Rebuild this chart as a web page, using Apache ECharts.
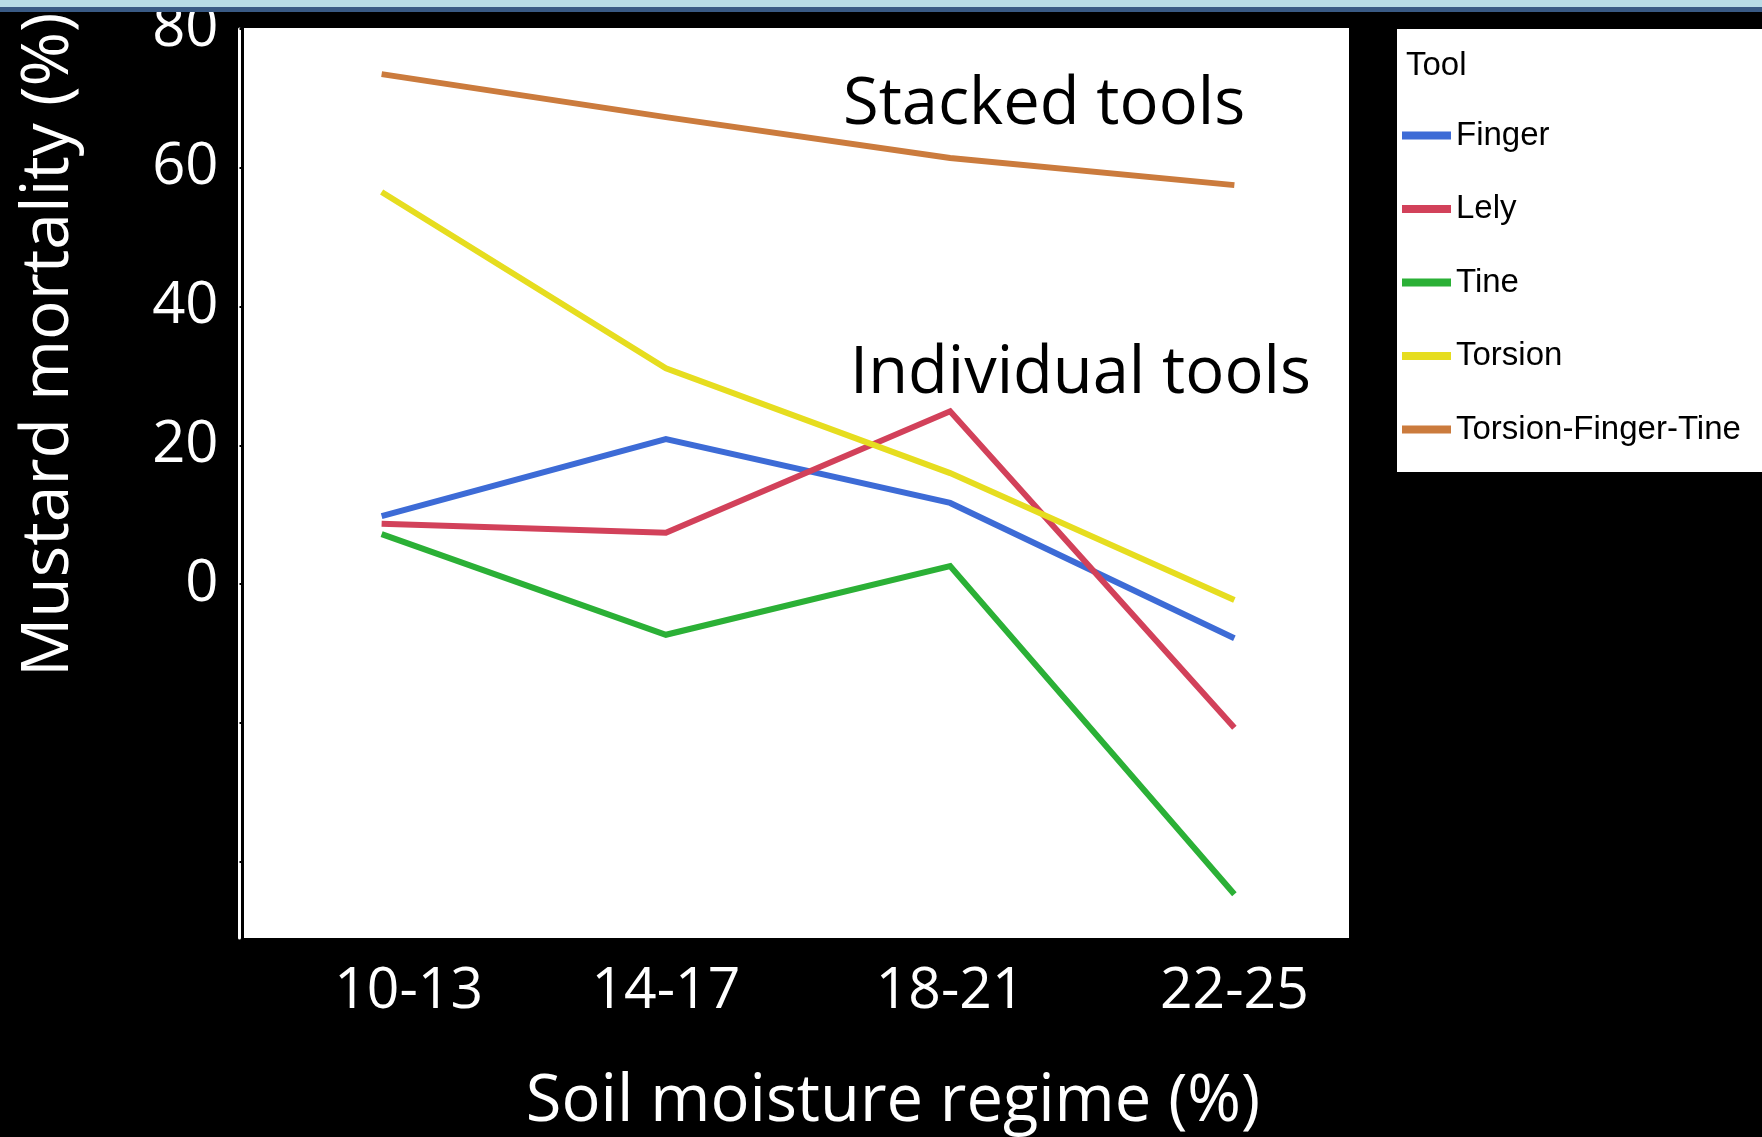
<!DOCTYPE html>
<html>
<head>
<meta charset="utf-8">
<script src="https://cdn.jsdelivr.net/npm/echarts@6/dist/echarts.min.js"></script>
<style>
  html, body { margin: 0; padding: 0; background: #000; }
  #chart { width: 1762px; height: 1137px; }
</style>
</head>
<body>
<div id="chart"></div>
<script>
const categories = ['10-13', '14-17', '18-21', '22-25'];
const seriesNames = ['Finger', 'Lely', 'Tine', 'Torsion', 'Torsion-Finger-Tine'];
const finger = [9.8, 20.9, 11.7, -7.8];
const lely = [8.7, 7.4, 24.9, -20.7];
const tine = [7.2, -7.3, 2.6, -44.7];
const torsion = [56.5, 31.1, 16.0, -2.3];
const torsionFingerTine = [73.5, 67.3, 61.4, 57.5];
const yTickValues = [-40, -20, 0, 20, 40, 60, 80];
const yLabelValues = [0, 20, 40, 60, 80];
const colors = ['#3d6bd6', '#d2415a', '#2bb036', '#e6dd1f', '#cb7b3d'];

const seriesData = [finger, lely, tine, torsion, torsionFingerTine];

const chart = echarts.init(document.getElementById('chart'), null, { renderer: 'canvas' });

const option = {
  backgroundColor: '#000',
  animation: false,
  grid: { left: 239.5, top: 28, width: 1137, height: 910, containLabel: false },
  xAxis: {
    type: 'category',
    data: categories,
    boundaryGap: true,
    axisLine: { show: false },
    axisTick: { show: false },
    splitLine: { show: false },
    axisLabel: {
      interval: 0,
      hideOverlap: false,
      color: '#fff', fontSize: 57, fontFamily: 'Open Sans', margin: 25,
      formatter: (value, index) => index === 0 ? '{first|' + value + '}' : value,
      rich: { first: { color: '#fff', fontSize: 57, fontFamily: 'Open Sans', padding: [0, 0, 0, 54] } }
    }
  },
  yAxis: {
    type: 'value',
    min: -51,
    max: 80,
    splitLine: { show: false },
    axisLine: { show: true, lineStyle: { color: '#fff', width: 3 } },
    axisTick: { show: true, inside: true, length: 4, customValues: yTickValues, lineStyle: { color: '#000', width: 2 } },
    axisLabel: { color: '#fff', fontSize: 58, fontFamily: 'Open Sans', margin: 21, customValues: yLabelValues }
  },
  legend: {
    orient: 'vertical',
    left: 1402,
    top: 119,
    padding: 0,
    icon: 'rect',
    itemWidth: 49,
    itemHeight: 8,
    itemGap: 40.5,
    data: seriesNames,
    textStyle: { color: '#000', fontSize: 33, lineHeight: 33, fontFamily: 'Liberation Sans' }
  },
  graphic: [
    { type: 'rect', z: -10, silent: true, shape: { x: 244, y: 28, width: 1105, height: 910 }, style: { fill: '#fff' } },
    { type: 'rect', z: -10, silent: true, shape: { x: 1397, y: 29, width: 365, height: 443 }, style: { fill: '#fff' } },
    { type: 'text', z: 50, silent: true, x: 1406, y: 66, style: { text: 'Tool', fill: '#000', fontSize: 33, fontFamily: 'Liberation Sans', textAlign: 'left', textVerticalAlign: 'middle' } },
    { type: 'text', z: 50, silent: true, x: 843, y: 105, style: { text: 'Stacked tools', fill: '#000', fontSize: 65, fontFamily: 'Open Sans', textAlign: 'left', textVerticalAlign: 'middle' } },
    { type: 'text', z: 50, silent: true, x: 850, y: 374, style: { text: 'Individual tools', fill: '#000', fontSize: 65, fontFamily: 'Open Sans', textAlign: 'left', textVerticalAlign: 'middle' } },
    { type: 'text', z: 50, silent: true, x: 893, y: 1102, style: { text: 'Soil moisture regime (%)', fill: '#fff', fontSize: 65, fontFamily: 'Open Sans', textAlign: 'center', textVerticalAlign: 'middle' } },
    { type: 'text', z: 50, silent: true, x: 49, y: 677, rotation: Math.PI / 2, style: { text: 'Mustard mortality (%)', fill: '#fff', fontSize: 66, fontFamily: 'Open Sans', textAlign: 'left', textVerticalAlign: 'middle' } },
    { type: 'rect', z: 100, silent: true, shape: { x: 0, y: 0, width: 1762, height: 7 }, style: { fill: '#b8dce6' } },
    { type: 'rect', z: 100, silent: true, shape: { x: 0, y: 7, width: 1762, height: 5 }, style: { fill: '#3a5b85' } }
  ],
  series: seriesNames.map((name, i) => ({
    name: name,
    type: 'line',
    data: seriesData[i],
    symbol: 'none',
    smooth: false,
    color: colors[i],
    itemStyle: { color: colors[i] },
    lineStyle: { color: colors[i], width: 6, join: 'miter', cap: 'butt' },
    silent: true
  }))
};

chart.setOption(option);
</script>
</body>
</html>
